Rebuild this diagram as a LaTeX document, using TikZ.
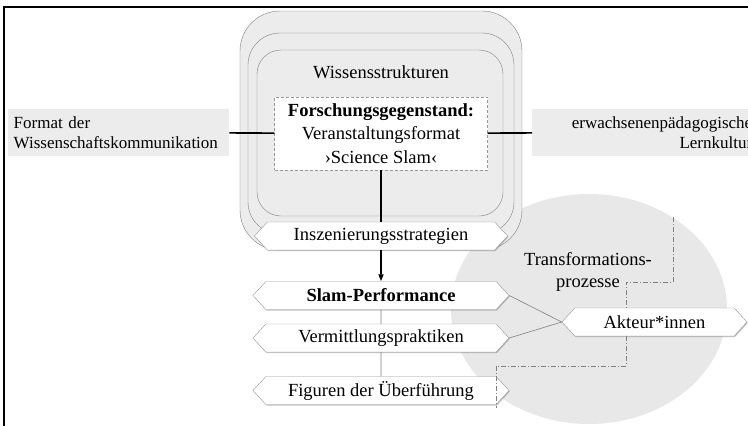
\documentclass[tikz,border=0pt]{standalone}
\usepackage{fontspec}
\setmainfont{Liberation Serif}
\usepackage{tikz}
\usetikzlibrary{shapes.symbols, arrows.meta, positioning, shadows, calc}

\begin{document}
\begin{tikzpicture}[
    x=1pt, y=-1pt,
    font=\fontsize{18.5}{22}\selectfont,
    hexbox/.style={signal, signal to=west and east, signal pointer angle=95, draw=gray!80, fill=white, minimum width=256pt, minimum height=28pt, inner sep=0pt, drop shadow={shadow xshift=0.8pt, shadow yshift=-1pt, opacity=0.5}},
    infobox/.style={fill=gray!15, minimum height=47pt, inner ysep=0pt, font=\fontsize{17}{20.5}\selectfont},
    frame/.style={draw=gray, fill=gray!15},
    conn/.style={line width=1.6pt},
    thinconn/.style={draw=gray, line width=0.6pt},
    trans/.style={draw=gray, line width=0.6pt, dash pattern=on 5pt off 2pt on 1pt off 2pt},
]

\clip (0,0) rectangle (748,426);

% Rahmen
\draw[line width=1.2pt] (4,426) -- (4,7) -- (748,7);

% Transformationsprozesse
\fill[gray!18] (589,309) ellipse [x radius=138, y radius=115];
\node[align=center] (trans) at (588,272) {Transformations-\\prozesse};

% Wissensstrukturen
\draw[frame, rounded corners=40pt] (240,11) rectangle (522,250);
\draw[frame, rounded corners=32pt] (248,33) rectangle (514,234);
\draw[frame, rounded corners=24pt] (257,50) rectangle (503,216);
\node (wissen) at (381,72) {Wissensstrukturen};

% Forschungsgegenstand
\node[draw=gray!80, densely dashed, fill=white, minimum width=213pt, minimum height=73pt, align=center, font=\fontsize{18.5}{23.5}\selectfont] (fg) at (381,133.5) {\textbf{Forschungsgegenstand:}\\Veranstaltungsformat\\›Science Slam‹};

% Kontexte links und rechts
\node[infobox, anchor=west, text width=210pt, inner xsep=5.5pt, align=left] (format) at (8,132.5) {Format der\\Wissenschaftskommunikation};
\node[infobox, anchor=west, text width=216pt, inner xsep=4pt, align=right] (lern) at (532,132.5) {erwachsenenpädagogische\\Lernkultur};

\draw[conn] (format) -- (fg);
\draw[conn] (fg) -- (lern);

% Ebenen
\node[hexbox, minimum width=253pt] (insz) at (381,236) {Inszenierungsstrategien};
\node[hexbox] (slam) at (381,295.5) {\textbf{Slam-Performance}};
\node[hexbox] (verm) at (381,338) {Vermittlungspraktiken};
\node[hexbox] (fig) at (381,390.5) {Figuren der Überführung};
\node[hexbox, minimum width=185pt] (akt) at (654.5,322) {Akteur*innen};

\draw[conn] (fg) -- (insz);
\draw[conn, -{Triangle[length=7pt, width=5pt]}] (insz) -- (slam);
\draw[thinconn] (slam) -- (verm);
\draw[thinconn] (verm) -- (fig);
\draw[thinconn] (slam.east) -- (akt.west);
\draw[thinconn] (verm.east) -- (akt.west);

% Transformationslinie
\coordinate (t1) at (673,217);
\coordinate (t2) at (626,282);
\coordinate (t3) at (496,366);
\coordinate (t4) at (496,408);
\draw[trans] (t1) |- (t2) -- (t2 |- akt.north);
\draw[trans] (t2 |- akt.south) |- (t3) -- (t4);

\end{tikzpicture}
\end{document}
